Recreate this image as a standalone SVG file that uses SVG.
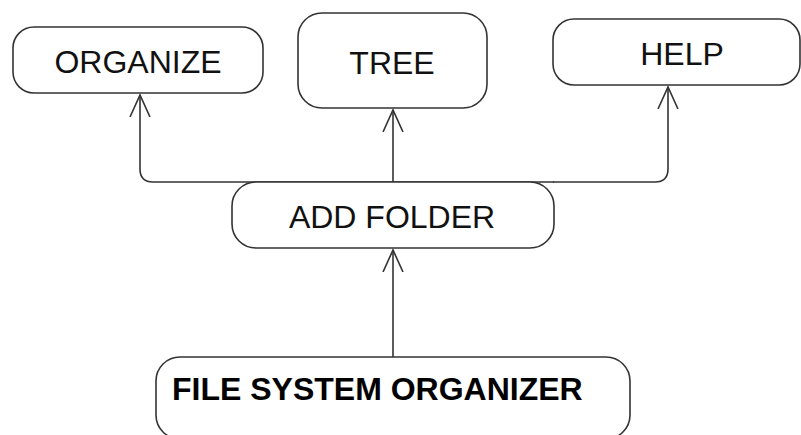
<svg xmlns="http://www.w3.org/2000/svg" width="801" height="435" viewBox="0 0 801 435">
<defs>
<style>
.box{fill:#fff;stroke:#333;stroke-width:1.6}
.lbl{font-family:"Liberation Sans",Arial,sans-serif;font-size:32px;fill:#111;text-anchor:middle}
.bold{font-weight:bold;text-anchor:start;fill:#000}
.con{fill:none;stroke:#333;stroke-width:1.6}
</style>
<marker id="arr" viewBox="0 0 24 24" refX="22" refY="12" markerWidth="24" markerHeight="24" markerUnits="userSpaceOnUse" orient="auto">
<path d="M0,2 L22,12 L0,22" fill="none" stroke="#333" stroke-width="1.6"/>
</marker>
</defs>
<g id="connectors">
<path class="con" d="M232,182 H153 Q140,182 140,169 V95" marker-end="url(#arr)"/>
<path class="con" d="M393,182 V110" marker-end="url(#arr)"/>
<path class="con" d="M553,182 H655 Q668,182 668,169 V87" marker-end="url(#arr)"/>
<path class="con" d="M232,182 H554"/>
<path class="con" d="M393,357 V250" marker-end="url(#arr)"/>
</g>
<g id="organize">
<rect class="box" x="13" y="27" width="250" height="66" rx="21"/>
<text class="lbl" x="138" y="73">ORGANIZE</text>
</g>
<g id="tree">
<rect class="box" x="298" y="13" width="189" height="95" rx="24"/>
<text class="lbl" x="392" y="74">TREE</text>
</g>
<g id="help">
<rect class="box" x="553" y="19" width="247" height="66" rx="21"/>
<text class="lbl" x="682" y="65">HELP</text>
</g>
<g id="add-folder">
<rect class="box" x="232" y="182" width="322" height="66" rx="24"/>
<text class="lbl" x="392" y="228">ADD FOLDER</text>
</g>
<g id="file-system-organizer">
<rect class="box" x="156" y="357" width="474" height="82" rx="24"/>
<text class="lbl bold" x="172" y="400">FILE SYSTEM ORGANIZER</text>
</g>
</svg>
